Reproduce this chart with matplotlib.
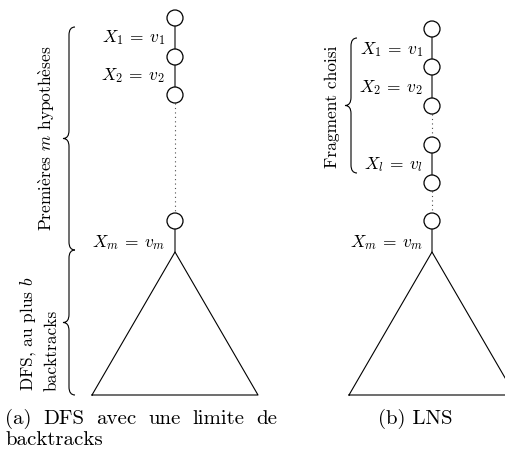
import matplotlib
matplotlib.use("Agg")
import matplotlib.pyplot as plt
from matplotlib.patches import Circle, PathPatch
from matplotlib.path import Path

plt.rcParams["mathtext.fontset"] = "cm"
plt.rcParams["font.family"] = ["cmr10", "DejaVu Serif"]
plt.rcParams["axes.unicode_minus"] = False

# chain (a): node levels and link styles
left_nodes = [18, 57, 95, 221]
left_links = ["solid", "solid", "dotted"]
left_labels = [r"$X_1 \:=\: v_1$", r"$X_2 \:=\: v_2$", r"$X_m \:=\: v_m$"]
left_label_y = [38, 76, 243]

# chain (b)
right_nodes = [29, 67, 106, 145, 183, 221]
right_links = ["solid", "solid", "dotted", "solid", "dotted"]
right_labels = [r"$X_1 \:=\: v_1$", r"$X_2 \:=\: v_2$", r"$X_l \:=\: v_l$", r"$X_m \:=\: v_m$"]
right_label_y = [50, 88, 165, 243]

caption_a_words = ["(a)", "DFS", "avec", "une", "limite", "de"]
caption_a_line2 = "backtracks"
caption_b = "(b) LNS"

brace_label_a1 = r"Premi$\grave{\mathrm{e}}$res $m$ hypoth$\grave{\mathrm{e}}$ses"
brace_label_a2 = ["DFS, au plus $b$", "backtracks"]
brace_label_b = "Fragment choisi"

R = 8
LINK_COLOR = "0.4"


def brace(ax, x, y0, y1, w=6, r=8):
    # left-pointing curly brace, y grows downwards
    ym = (y0 + y1) / 2
    verts = [
        (x + w, y0), (x, y0), (x, y0 + r),
        (x, ym - r),
        (x, ym), (x - w, ym),
        (x, ym), (x, ym + r),
        (x, y1 - r),
        (x, y1), (x + w, y1),
    ]
    codes = [Path.MOVETO, Path.CURVE3, Path.CURVE3,
             Path.LINETO,
             Path.CURVE3, Path.CURVE3,
             Path.CURVE3, Path.CURVE3,
             Path.LINETO,
             Path.CURVE3, Path.CURVE3]
    ax.add_patch(PathPatch(Path(verts, codes), fc="none", ec="black", lw=0.8))


def chain(ax, x, nodes, links, apex_y, base_y, half):
    for (ya, yb), style in zip(zip(nodes[:-1], nodes[1:]), links):
        if style == "solid":
            ax.plot([x, x], [ya + R, yb - R], color=LINK_COLOR, lw=1.3)
        else:
            ax.plot([x, x], [ya + R, yb - R], color="0.3", lw=0.8, ls=(0, (1, 3)))
    ax.plot([x, x], [nodes[-1] + R, apex_y], color=LINK_COLOR, lw=1.3)
    for y in nodes:
        ax.add_patch(Circle((x, y), R, fc="white", ec="black", lw=0.9, zorder=3))
    ax.plot([x - half, x, x + half, x - half], [base_y, apex_y, base_y, base_y],
            color="black", lw=0.8, clip_on=False)


fig = plt.figure(figsize=(5.05, 4.51), dpi=100)
ax = fig.add_axes([0, 0, 1, 1])
ax.set_xlim(0, 505)
ax.set_ylim(451, 0)
ax.axis("off")

# (a)
chain(ax, 175, left_nodes, left_links, 252, 395, 83)
for lab, y in zip(left_labels, left_label_y):
    ax.text(165, y, lab, ha="right", va="center", fontsize=12.5)
brace(ax, 69, 27, 250)
brace(ax, 69, 250, 395)
ax.text(47, 138, brace_label_a1, rotation=90, ha="center", va="center", fontsize=12.5)
for lx, line in zip([28, 52], brace_label_a2):
    ax.text(lx, 391, line, rotation=90, ha="center", va="bottom", fontsize=12.5)

# (b)
chain(ax, 432, right_nodes, right_links, 252, 395, 83)
for lab, y in zip(right_labels, right_label_y):
    ax.text(423, y, lab, ha="right", va="center", fontsize=12.5)
brace(ax, 351, 38, 173)
ax.text(332, 107, brace_label_b, rotation=90, ha="center", va="center", fontsize=12.5)

# captions, first line of (a) is justified between x=5 and x=277
fig.canvas.draw()
renderer = fig.canvas.get_renderer()
inv = ax.transData.inverted()
words = [ax.text(0, 419, w, ha="left", va="center", fontsize=15) for w in caption_a_words]
widths = []
for t in words:
    bb = t.get_window_extent(renderer)
    p0 = inv.transform((bb.x0, bb.y0))
    p1 = inv.transform((bb.x1, bb.y0))
    widths.append(p1[0] - p0[0])
gap = (277 - 5 - sum(widths)) / (len(words) - 1)
xpos = 5
for t, wd in zip(words, widths):
    t.set_x(xpos)
    xpos += wd + gap
ax.text(5, 440, caption_a_line2, ha="left", va="center", fontsize=15)
ax.text(415, 419, caption_b, ha="center", va="center", fontsize=15)

fig.savefig("out.png", dpi=100)
